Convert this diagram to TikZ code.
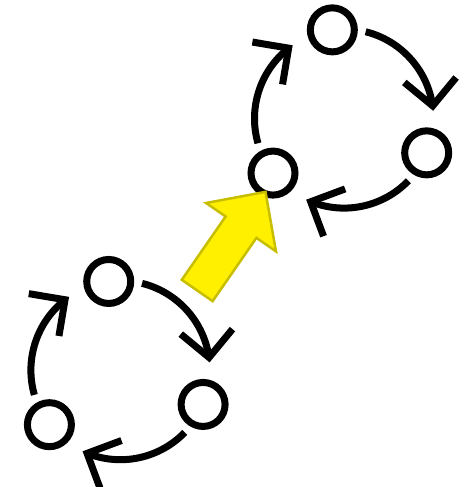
\documentclass[tikz,border=0pt]{standalone}
\usepackage{xcolor,tikz}
\usetikzlibrary{arrows.meta,bending,calc}
\definecolor{Yc}{HTML}{FFF000}
\definecolor{Ye}{HTML}{C8BE00}
\tikzset{
  spot/.style={circle, draw=black, line width=7pt, inner sep=0pt, minimum size=44pt},
  flow/.style={-{Straight Barb[length=26pt, width=52pt]}, line width=7pt},
  jump/.style={fill=Yc, draw=Ye, line width=2.5pt, line join=miter},
}
\newcommand{\ringR}{89.5pt}
\newcommand{\ring}[3]{%
  \coordinate (#1) at (#2,#3);
  \foreach \k/\a in {1/97.5,2/-22.5,3/217.5}{%
    \node[spot] (#1c\k) at ([shift={(\a:\ringR)}]#1) {};
    \coordinate (#1a\k) at ([shift={(\a-21.5:\ringR)}]#1);
    \draw[flow] (#1a\k) arc[start angle=\a-21.5, delta angle=-71, radius=\ringR];}}

\begin{document}
\begin{tikzpicture}[x=1pt, y=1pt]
  \useasboundingbox (0,0) rectangle (472,487);
  \ring{lo}{120.4}{116.8}
  \ring{hi}{344}{368.4}
  % big arrow from the lower ring to the upper one
  \begin{scope}[shift={(197.2,196.5)}, rotate=55.3]
    \draw[jump] (0,-18.75) -- (77,-18.75) -- (77,-42.5) -- (120,0)
      -- (77,42.5) -- (77,18.75) -- (0,18.75) -- cycle;
  \end{scope}
\end{tikzpicture}
\end{document}
